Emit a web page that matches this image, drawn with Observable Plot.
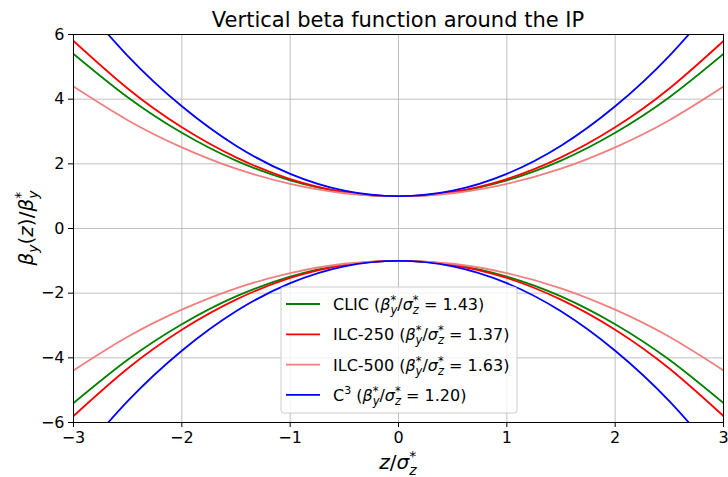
<!DOCTYPE html>
<html>
<head>
<meta charset="utf-8">
<script src="https://cdn.jsdelivr.net/npm/d3@7"></script>
<script src="https://cdn.jsdelivr.net/npm/@observablehq/plot@0.6"></script>
<style>
  html, body { margin: 0; padding: 0; background: white; }
  svg text { font-family: "DejaVu Sans", sans-serif; }
</style>
</head>
<body>
<script>
// z / sigma_z* sample positions
const zs = [-3, -2.5, -2, -1.5, -1, -0.5, 0, 0.5, 1, 1.5, 2, 2.5, 3];
// upper branch beta_y(z)/beta_y* (lower branch is its mirror)
const clic   = [5.40, 4.06, 2.96, 2.10, 1.49, 1.12, 1.00, 1.12, 1.49, 2.10, 2.96, 4.06, 5.40];
const ilc250 = [5.80, 4.33, 3.13, 2.20, 1.53, 1.13, 1.00, 1.13, 1.53, 2.20, 3.13, 4.33, 5.80];
const ilc500 = [4.39, 3.35, 2.51, 1.85, 1.38, 1.09, 1.00, 1.09, 1.38, 1.85, 2.51, 3.35, 4.39];
const c3     = [7.25, 5.34, 3.78, 2.56, 1.69, 1.17, 1.00, 1.17, 1.69, 2.56, 3.78, 5.34, 7.25];
const seriesNames = ["CLIC", "ILC-250", "ILC-500", "C3"];
const ratios = ["1.43", "1.37", "1.63", "1.20"];
const colors = ["green", "red", "#f08080", "blue"];
const seriesValues = [clic, ilc250, ilc500, c3];
const xTicks = [-3, -2, -1, 0, 1, 2, 3];
const yTicks = [-6, -4, -2, 0, 2, 4, 6];

const lineMarks = [];
seriesValues.forEach((vals, i) => {
  const rows = zs.map((z, j) => ({z, v: vals[j]}));
  lineMarks.push(Plot.line(rows, {x: "z", y: "v", stroke: colors[i], strokeWidth: 1.8, curve: "natural", clip: true}));
  lineMarks.push(Plot.line(rows, {x: "z", y: d => -d.v, stroke: colors[i], strokeWidth: 1.8, curve: "natural", clip: true}));
});

const chart = Plot.plot({
  width: 728, height: 477,
  marginLeft: 73, marginRight: 5, marginTop: 34, marginBottom: 55,
  style: {fontFamily: "DejaVu Sans", fontSize: "16px", color: "black", background: "white", overflow: "visible"},
  x: {domain: [-3, 3]},
  y: {domain: [-6, 6]},
  marks: [
    Plot.gridX(xTicks, {stroke: "#b0b0b0", strokeOpacity: 1, strokeWidth: 0.8}),
    Plot.gridY(yTicks, {stroke: "#b0b0b0", strokeOpacity: 1, strokeWidth: 0.8}),
    ...lineMarks,
    Plot.frame({stroke: "black", strokeWidth: 1}),
    Plot.axisX(xTicks, {tickSize: 5, tickPadding: 4, fontSize: 16, label: null, stroke: "black"}),
    Plot.axisY(yTicks, {tickSize: 5, tickPadding: 4, fontSize: 16, label: null, stroke: "black"})
  ]
});
document.body.append(chart);

const svg = d3.select(chart);
// helper for math-like text
function mathText(g, x, y, size, parts, anchor) {
  const t = g.append("text").attr("x", x).attr("y", y).attr("font-size", size).attr("fill", "black")
    .attr("text-anchor", anchor || "start");
  parts.forEach(p => {
    const ts = t.append("tspan").text(p.t);
    if (p.i) ts.attr("font-style", "italic");
    if (p.s) ts.attr("font-size", p.s);
    if (p.dy) ts.attr("dy", p.dy);
    if (p.dx) ts.attr("dx", p.dx);
  });
  return t;
}
// Title
svg.append("text").attr("x", 398).attr("y", 27).attr("text-anchor", "middle")
  .attr("font-size", 21).attr("fill", "black").text("Vertical beta function around the IP");

// x label z/σ*_z
mathText(svg, 398, 469, 20, [
  {t: "z", i: true}, {t: "/"}, {t: "σ", i: true},
  {t: "*", s: 14, dy: -8}, {t: "z", i: true, s: 14, dy: 14, dx: -7}
], "middle");

// y label β_y(z)/β*_y rotated
const yl = svg.append("g").attr("transform", "translate(33,228) rotate(-90)");
mathText(yl, 0, 0, 20, [
  {t: "β", i: true}, {t: "y", i: true, s: 14, dy: 5}, {t: "(", dy: -5}, {t: "z", i: true}, {t: ")"}, {t: "/"},
  {t: "β", i: true}, {t: "*", s: 14, dy: -8}, {t: "y", i: true, s: 14, dy: 13, dx: -7}
], "middle");

// Legend
const lg = svg.append("g");
lg.append("rect").attr("x", 281).attr("y", 287).attr("width", 236).attr("height", 126)
  .attr("rx", 3).attr("fill", "white").attr("fill-opacity", 0.8).attr("stroke", "#cccccc");
seriesNames.forEach((name, i) => {
  const yy = 304 + i * 30.3;
  lg.append("line").attr("x1", 286).attr("x2", 320).attr("y1", yy).attr("y2", yy)
    .attr("stroke", colors[i]).attr("stroke-width", 1.8);
  const head = name === "C3" ? [{t: "C"}, {t: "3", s: 11, dy: -7}, {t: " (", dy: 7}] : [{t: name + " ("}];
  mathText(lg, 333, yy + 6, 16, [
    ...head,
    {t: "β", i: true}, {t: "*", s: 11.5, dy: -6}, {t: "y", i: true, s: 11.5, dy: 10, dx: -5.8},
    {t: "/", dy: -4}, {t: "σ", i: true}, {t: "*", s: 11.5, dy: -6}, {t: "z", i: true, s: 11.5, dy: 10, dx: -5.8},
    {t: " = " + ratios[i] + ")", dy: -4}
  ], "start");
});
</script>
</body>
</html>
